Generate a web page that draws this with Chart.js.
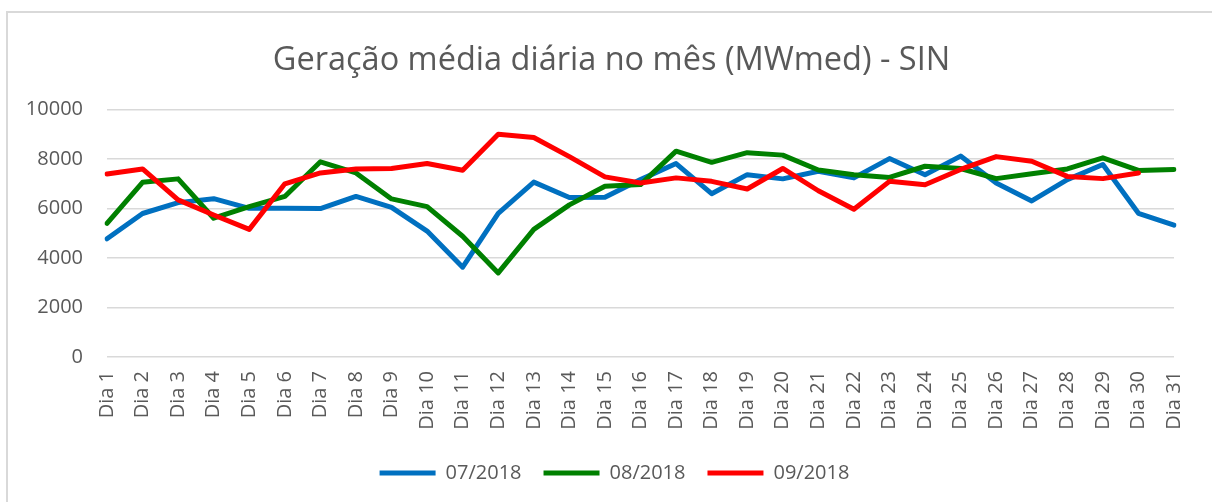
<!DOCTYPE html>
<html>
<head>
<meta charset="utf-8">
<script src="https://cdn.jsdelivr.net/npm/chart.js@4/dist/chart.umd.min.js"></script>
<style>
  html, body { margin: 0; padding: 0; background: #ffffff; overflow: hidden; }
  #wrap { position: relative; width: 1212px; height: 502px; }
  #frame { position: absolute; left: 6px; top: 11px; width: 1400px; height: 700px;
           border-left: 2px solid #d9d9d9; border-top: 2px solid #d9d9d9; pointer-events: none; }
</style>
</head>
<body>
<div id="wrap">
  <canvas id="c" width="1212" height="502"></canvas>
  <div id="frame"></div>
</div>
<script>
const titleText = 'Geração média diária no mês (MWmed) - SIN';
const categories = ['Dia 1','Dia 2','Dia 3','Dia 4','Dia 5','Dia 6','Dia 7','Dia 8','Dia 9','Dia 10',
  'Dia 11','Dia 12','Dia 13','Dia 14','Dia 15','Dia 16','Dia 17','Dia 18','Dia 19','Dia 20',
  'Dia 21','Dia 22','Dia 23','Dia 24','Dia 25','Dia 26','Dia 27','Dia 28','Dia 29','Dia 30','Dia 31'];
const seriesNames = ['07/2018', '08/2018', '09/2018'];
const jul2018 = [4780, 5800, 6240, 6400, 6010, 6010, 6000, 6490, 6050, 5090,
  3630, 5810, 7070, 6450, 6460, 7170, 7820, 6600, 7370, 7200,
  7510, 7240, 8020, 7370, 8120, 7030, 6310, 7170, 7780, 5810, 5330];
const aug2018 = [5400, 7060, 7200, 5610, 6080, 6490, 7890, 7440, 6390, 6080,
  4880, 3400, 5160, 6150, 6900, 6970, 8320, 7870, 8260, 8160,
  7560, 7370, 7260, 7710, 7620, 7210, 7410, 7600, 8050, 7540, 7580];
const sep2018 = [7400, 7600, 6350, 5740, 5160, 7000, 7440, 7600, 7620, 7820,
  7550, 9000, 8870, 8100, 7280, 7030, 7240, 7100, 6790, 7620,
  6720, 5970, 7100, 6960, 7580, 8100, 7910, 7300, 7210, 7440, null];
const yTicks = [0, 2000, 4000, 6000, 8000, 10000];

const colors = ['#0070C0', '#008000', '#FF0000'];
const FONT = '"Open Sans", sans-serif';
const GRAY = '#595959';

function mk(label, data, color, order) {
  return {
    label, data, order,
    borderColor: color, backgroundColor: color,
    borderWidth: 5, pointRadius: 0, pointHoverRadius: 0, tension: 0,
    borderCapStyle: 'round', borderJoinStyle: 'round',
    pointStyle: 'line', spanGaps: false
  };
}

const blockShift = {
  id: 'blockShift',
  afterLayout(chart) {
    const lg = chart.legend;
    if (lg) { lg.left += 17; lg.right += 17; }
    const tb = chart.titleBlock;
    if (tb) { tb.left += 14; tb.right += 14; }
  }
};

new Chart(document.getElementById('c'), {
  type: 'line',
  data: {
    labels: categories,
    datasets: [
      mk(seriesNames[0], jul2018, colors[0], 3),
      mk(seriesNames[1], aug2018, colors[1], 2),
      mk(seriesNames[2], sep2018, colors[2], 1)
    ]
  },
  options: {
    responsive: false,
    animation: false,
    events: [],
    layout: { padding: { left: 7, right: 24, top: 12, bottom: 9 } },
    plugins: {
      title: {
        display: true, text: titleText, color: GRAY,
        font: { family: FONT, size: 32.5, weight: 'normal' },
        padding: { top: 29, bottom: 29.6 }
      },
      legend: {
        display: true, position: 'bottom',
        labels: {
          usePointStyle: true, pointStyle: 'line', pointStyleWidth: 56,
          color: GRAY, font: { family: FONT, size: 20 }, padding: 22,
          sort: (a, b) => a.datasetIndex - b.datasetIndex
        }
      },
      tooltip: { enabled: false }
    },
    scales: {
      x: {
        offset: false,
        grid: { display: false, drawTicks: false },
        border: { display: false },
        ticks: {
          color: GRAY, font: { family: FONT, size: 20 },
          minRotation: 90, maxRotation: 90, autoSkip: false, padding: 14
        },
        afterFit(s) { s.height = 84; }
      },
      y: {
        min: 0, max: 10000,
        afterBuildTicks(s) { s.ticks = yTicks.map(v => ({ value: v })); },
        grid: { color: '#d9d9d9', lineWidth: 1.5, drawTicks: false },
        border: { display: false },
        ticks: { color: GRAY, font: { family: FONT, size: 20 }, padding: 24,
                 callback: (v) => String(v) },
        afterFit(s) { s.width = 100; }
      }
    }
  },
  plugins: [blockShift]
});
</script>
</body>
</html>
